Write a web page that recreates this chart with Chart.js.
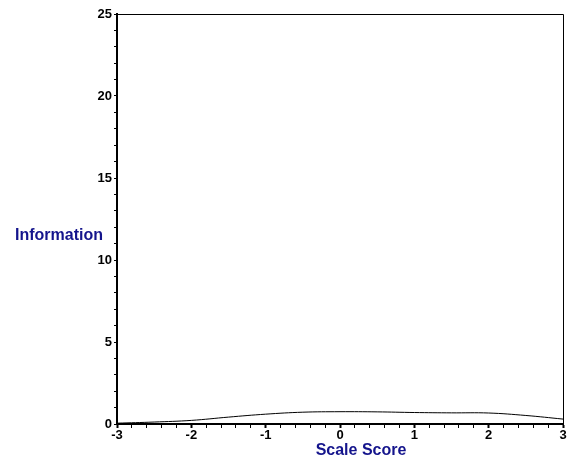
<!DOCTYPE html>
<html>
<head>
<meta charset="utf-8">
<script src="https://cdn.jsdelivr.net/npm/chart.js@4"></script>
<style>
html,body{margin:0;padding:0;background:#fff;}
#wrap{width:567px;height:463px;position:relative;}
</style>
</head>
<body>
<div id="wrap"><canvas id="c" width="567" height="463"></canvas></div>
<script>
// Data
const scaleScores = [-3, -2.5, -2, -1.5, -1, -0.5, 0, 0.5, 1, 1.5, 2, 2.5, 3];
const information = [0.05, 0.12, 0.22, 0.42, 0.6, 0.72, 0.75, 0.74, 0.7, 0.68, 0.67, 0.52, 0.3];
const xTitle = "Scale Score";
const yTitle = "Information";

const FONT = "Arial, 'Liberation Sans', sans-serif";
const NAVY = "#14148c";

const titlesPlugin = {
  id: 'titles',
  afterDraw(chart) {
    const ctx = chart.ctx;
    const a = chart.chartArea;
    ctx.save();
    // thin top and right frame
    ctx.strokeStyle = '#000';
    ctx.lineWidth = 1;
    ctx.beginPath();
    ctx.moveTo(a.left, a.top + 0.5);
    ctx.lineTo(a.right + 0.5, a.top + 0.5);
    ctx.lineTo(a.right + 0.5, a.bottom);
    ctx.stroke();
    ctx.fillStyle = NAVY;
    ctx.font = "bold 16px " + FONT;
    ctx.textAlign = 'center';
    ctx.textBaseline = 'middle';
    ctx.fillText(xTitle, 361, 451);
    ctx.fillText(yTitle, 59, 236);
    ctx.restore();
  }
};

new Chart(document.getElementById('c'), {
  type: 'line',
  data: {
    datasets: [{
      data: scaleScores.map((x, i) => ({x: x, y: information[i]})),
      borderColor: '#000',
      borderWidth: 1,
      pointRadius: 0,
      tension: 0.4,
      fill: false
    }]
  },
  options: {
    responsive: false,
    animation: false,
    devicePixelRatio: 1,
    layout: {padding: {left: 0, top: 14, right: 4, bottom: 0}},
    plugins: {legend: {display: false}, tooltip: {enabled: false}},
    scales: {
      x: {
        type: 'linear',
        min: -3, max: 3,
        afterFit(s) { s.height = 39; },
        border: {display: true, color: '#000', width: 2},
        grid: {display: true, drawOnChartArea: false, tickLength: 4, color: '#000',
               tickWidth: (c) => (Math.abs(c.tick.value - Math.round(c.tick.value)) < 1e-6 ? 2 : 1)},
        ticks: {
          stepSize: 0.2,
          autoSkip: false,
          maxRotation: 0,
          padding: 0,
          color: '#000',
          font: {family: FONT, size: 13, weight: 'bold'},
          callback: (v) => (Math.abs(v - Math.round(v)) < 1e-6 ? String(Math.round(v)) : '')
        }
      },
      y: {
        min: 0, max: 25,
        afterFit(s) { s.width = 117; },
        border: {display: true, color: '#000', width: 2},
        grid: {display: true, drawOnChartArea: false, tickLength: 3, color: '#000', tickWidth: 1},
        ticks: {
          stepSize: 1,
          autoSkip: false,
          padding: 2,
          color: '#000',
          font: {family: FONT, size: 13, weight: 'bold'},
          callback: (v) => (v % 5 === 0 ? String(v) : '')
        }
      }
    }
  },
  plugins: [titlesPlugin]
});
</script>
</body>
</html>
